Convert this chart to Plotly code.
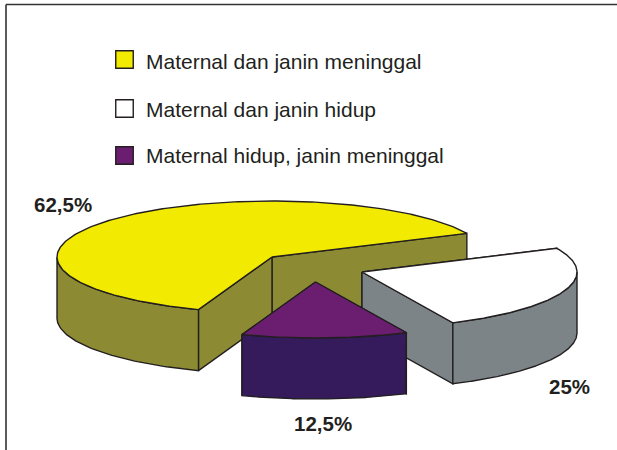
import numpy as np
import plotly.graph_objects as go

# --- data ---
categories = ["Maternal dan janin meninggal", "Maternal dan janin hidup", "Maternal hidup, janin meninggal"]
values = [62.5, 25, 12.5]
value_labels = ["62,5%", "25%", "12,5%"]

# --- styling / layout ---
top_colors = ["#F2EA00", "#FFFFFF", "#6B1E70"]
wall_colors = ["#8C8A32", "#7C8488", "#351B5C"]
INK = "#231F20"
W, H = 617, 450
RX, RY, DEPTH = 215, 56, 61
START_ANGLE = 25
sweep_order = [0, 2, 1]            # slices run counter-clockwise in this order
centres = [(272, 257), (362, 272), (315.5, 282)]   # exploded slice apexes, pixels
label_pos = [(63, 204), (569, 386), (323, 423)]
legend_y = [59.5, 108.5, 155.5]
legend_text_y = [61, 109, 155]

fig = go.Figure()


def poly(xs, ys, fill):
    fig.add_trace(go.Scatter(
        x=list(xs) + [xs[0]], y=list(ys) + [ys[0]], mode="lines", fill="toself",
        fillcolor=fill, line=dict(color=INK, width=1.4), hoverinfo="skip", showlegend=False))


total = sum(values)
spans = {}
a = START_ANGLE
for i in sweep_order:
    s = values[i] / total * 360
    spans[i] = (a, a + s)
    a += s

for i in range(len(values)):
    t0, t1 = spans[i]
    cx, cy = centres[i]
    pt = lambda deg: (cx + RX * np.cos(np.radians(deg)), cy - RY * np.sin(np.radians(deg)))
    # radial walls, far one first
    ends = sorted([t0, t1], key=lambda d: pt(d)[1])
    for e in ends:
        px, py = pt(e)
        poly([cx, px, px, cx], [cy, py, py + DEPTH, cy + DEPTH], wall_colors[i])
    # outer wall: the part of the rim facing the viewer
    ts = np.linspace(t0, t1, 241)
    ts = ts[np.sin(np.radians(ts)) <= 0]
    if len(ts):
        xs = cx + RX * np.cos(np.radians(ts))
        ys = cy - RY * np.sin(np.radians(ts))
        poly(list(xs) + list(xs[::-1]), list(ys) + list(ys[::-1] + DEPTH), wall_colors[i])
    # top face
    ts = np.linspace(t0, t1, 241)
    poly([cx] + list(cx + RX * np.cos(np.radians(ts))),
         [cy] + list(cy - RY * np.sin(np.radians(ts))), top_colors[i])

# legend keys and text
fig.add_trace(go.Scatter(
    x=[124.5] * 3, y=legend_y, mode="markers", hoverinfo="skip", showlegend=False,
    marker=dict(symbol="square", size=17.5, color=top_colors, line=dict(color=INK, width=1.4))))
for name, y in zip(categories, legend_text_y):
    fig.add_annotation(x=144, y=y, text=name, showarrow=False, xanchor="left", yanchor="middle",
                       font=dict(family="Liberation Sans", size=21, color=INK))
for lab, (x, y) in zip(value_labels, label_pos):
    fig.add_annotation(x=x, y=y, text=f"<b>{lab}</b>", showarrow=False,
                       font=dict(family="Liberation Sans", size=20.5, color=INK))

# picture frame (top and left edges)
fig.add_shape(type="line", x0=6, x1=W, y0=4.5, y1=4.5, line=dict(color="#333333", width=1.6))
fig.add_shape(type="line", x0=6, x1=6, y0=4.5, y1=H, line=dict(color="#333333", width=1.6))

fig.update_layout(
    width=W, height=H, margin=dict(l=0, r=0, t=0, b=0), showlegend=False,
    paper_bgcolor="white", plot_bgcolor="white",
    xaxis=dict(range=[0, W], visible=False, fixedrange=True),
    yaxis=dict(range=[H, 0], visible=False, fixedrange=True),
)
fig.write_html("out.html", config={"displayModeBar": False},
               post_script="document.body.style.margin='0';document.documentElement.style.overflow='hidden';")
